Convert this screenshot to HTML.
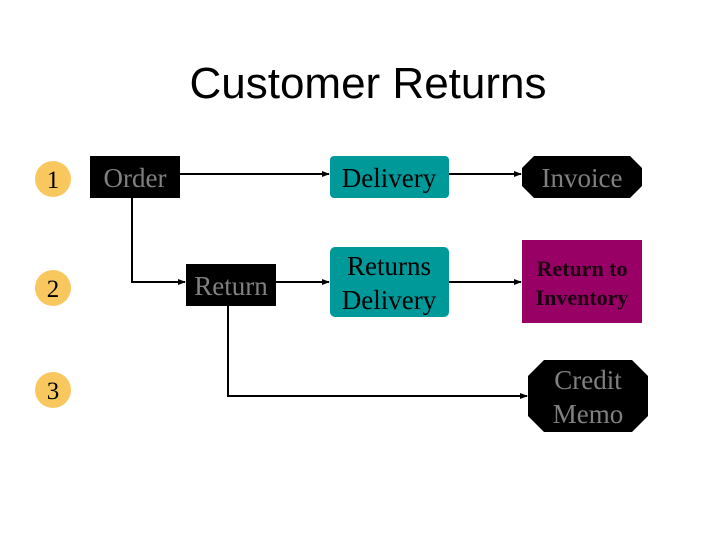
<!DOCTYPE html>
<html><head><style>
body{margin:0;width:720px;height:540px;background:#fff;overflow:hidden}
svg{display:block}
</style></head><body>
<svg width="720" height="540" viewBox="0 0 720 540" xmlns="http://www.w3.org/2000/svg">
<defs><marker id="a" markerWidth="8" markerHeight="6" refX="7" refY="3" orient="auto" markerUnits="userSpaceOnUse"><path d="M0,0 L8,3 L0,6 Z" fill="#000"/></marker></defs>
<text x="368" y="98" font-family="Liberation Sans, sans-serif" font-size="44" text-anchor="middle" fill="#000">Customer Returns</text>
<g fill="#f8c85e"><circle cx="53" cy="179" r="18"/><circle cx="53" cy="288" r="18"/><circle cx="53" cy="390" r="18"/></g>
<g font-family="Liberation Serif, serif" font-size="25" text-anchor="middle" fill="#000">
<text x="53" y="188">1</text><text x="53" y="297">2</text><text x="53" y="399">3</text></g>
<g stroke="#000" stroke-width="2" fill="none">
<path d="M180 174 H329" marker-end="url(#a)"/>
<path d="M132 198 V282 H185" marker-end="url(#a)"/>
<path d="M276 282 H329" marker-end="url(#a)"/>
<path d="M228 306 V396 H527" marker-end="url(#a)"/>
<path d="M449 174 H521" marker-end="url(#a)"/>
<path d="M449 282 H521" marker-end="url(#a)"/>
</g>
<rect x="90" y="156" width="90" height="42" fill="#000"/>
<rect x="186" y="264" width="90" height="42" fill="#000"/>
<rect x="330" y="156" width="119" height="42" rx="4" fill="#009999"/>
<rect x="330" y="247" width="119" height="70" rx="5" fill="#009999"/>
<polygon points="534,156 630,156 642,168 642,186 630,198 534,198 522,186 522,168" fill="#000"/>
<rect x="522" y="240" width="120" height="83" fill="#990066"/>
<polygon points="544,360 632,360 648,376 648,416 632,432 544,432 528,416 528,376" fill="#000"/>
<g font-family="Liberation Serif, serif" font-size="27" text-anchor="middle" textLength="0">
<text x="135" y="187" fill="#808080">Order</text>
<text x="231" y="295" fill="#808080">Return</text>
<text x="389" y="187" fill="#000">Delivery</text>
<text x="389" y="275" fill="#000">Returns</text>
<text x="389" y="309" fill="#000">Delivery</text>
<text x="582" y="187" fill="#808080">Invoice</text>
<text x="588" y="389" fill="#808080">Credit</text>
<text x="588" y="423" fill="#808080">Memo</text>
</g>
<g font-family="Liberation Serif, serif" font-size="22" font-weight="bold" text-anchor="middle" fill="#1a0010">
<text x="582" y="276">Return to</text>
<text x="582" y="305">Inventory</text>
</g>
</svg>
</body></html>
